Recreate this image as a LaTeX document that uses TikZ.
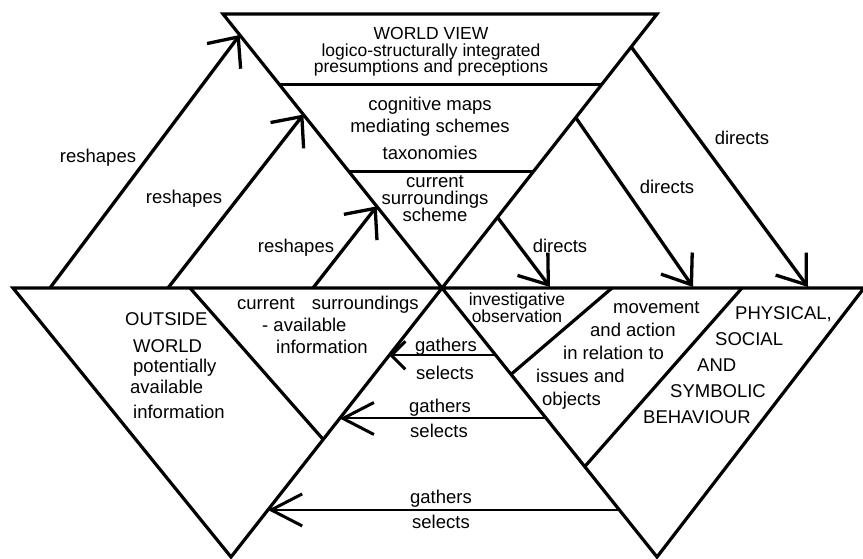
\documentclass[tikz,border=0pt]{standalone}
\usepackage{fontspec}
\setmainfont{Liberation Sans}
\usetikzlibrary{arrows.meta,calc}
\lineskiplimit=-\maxdimen
\newcommand{\fs}[1]{\fontsize{18.5}{#1}\selectfont\lineskiplimit=-\maxdimen}
\newcommand{\fss}[1]{\fontsize{17.5}{#1}\selectfont\lineskiplimit=-\maxdimen}
\begin{document}
\begin{tikzpicture}[x=1pt,y=-1pt,
  edge/.style={line width=3.2pt, line join=miter},
  lbl/.style={inner sep=0pt, anchor=base, font=\fs{22}},
  rarrow/.style={line width=3.3pt, -{Straight Barb[length=24pt,width=42pt]}},
  darrow/.style={line width=3.3pt, -{Straight Barb[length=26pt,width=38pt]}},
  garrow/.style={line width=2pt, -{Straight Barb[length=31pt,width=32pt,line width=3pt]}},
  gsmall/.style={line width=2pt, -{Straight Barb[length=14pt,width=28pt,line width=3pt]}}]
\useasboundingbox (0,0) rectangle (863,559);
% main frame
\coordinate (TL) at (223,14);
\coordinate (TR) at (657,14);
\coordinate (BL) at (13,288);
\coordinate (BR) at (864,288);
\coordinate (AL) at (231,557);
\coordinate (AR) at (657,557);
\coordinate (C) at (intersection of TL--AR and TR--AL);
\draw[edge] (BL) -- (BR) -- (AR) -- (TL) -- (TR) -- (AL) -- cycle;
% inner lines of the top triangle
\coordinate (h1l) at ($(TL)!0.258!(C)$);
\coordinate (h1r) at ($(TR)!0.258!(C)$);
\coordinate (h2l) at ($(TL)!0.5745!(C)$);
\coordinate (h2r) at ($(TR)!0.5745!(C)$);
\draw[edge] (h1l) -- (h1r);
\draw[edge] (h2l) -- (h2r);
% inner lines of the bottom triangles
\coordinate (li1) at (190,288);
\coordinate (li2) at ($(C)!0.563!(AL)$);
\draw[edge] (li1) -- (li2);
\coordinate (ra1) at (612,288);
\coordinate (ra2) at ($(C)!0.321!(AR)$);
\draw[edge] (ra1) -- (ra2);
\coordinate (rb1) at (742,288);
\coordinate (rb2) at ($(C)!0.664!(AR)$);
\draw[edge] (rb1) -- (rb2);
% reshapes arrows
\coordinate (r1s) at (50,288);
\coordinate (r1e) at ($(TL)!0.0764!(C)$);
\coordinate (r2s) at (168,288);
\coordinate (r2e) at ($(TL)!0.367!(C)$);
\coordinate (r3s) at (313,288);
\coordinate (r3e) at ($(TL)!0.702!(C)$);
\draw[rarrow] (r1s) -- (r1e);
\draw[rarrow] (r2s) -- (r2e);
\draw[rarrow] (r3s) -- (r3e);
% directs arrows
\coordinate (d1s) at ($(TR)!0.12!(C)$);
\coordinate (d1e) at (808,287);
\coordinate (d2s) at ($(TR)!0.378!(C)$);
\coordinate (d2e) at (693,287);
\coordinate (d3s) at ($(TR)!0.742!(C)$);
\coordinate (d3e) at (550,287);
\draw[darrow] (d1s) -- (d1e);
\draw[darrow] (d2s) -- (d2e);
\draw[darrow] (d3s) -- (d3e);
% gathers arrows
\coordinate (g1s) at ($(C)!0.25!(AR)$);
\coordinate (g1e) at ($(C)!0.25!(AL)$);
\coordinate (g2s) at ($(C)!0.485!(AR)$);
\coordinate (g2e) at ($(C)!0.485!(AL)$);
\coordinate (g3s) at ($(C)!0.825!(AR)$);
\coordinate (g3e) at ($(C)!0.825!(AL)$);
\draw[gsmall] (g1s) -- (g1e);
\draw[garrow] (g2s) -- (g2e);
\draw[garrow] (g3s) -- (g3e);
% texts (multi-line nodes are anchored at the baseline of their last line)
\node[lbl, align=center, font=\fss{16.5}] (worldview) at (431,73)
  {WORLD VIEW\\logico-structurally integrated\\presumptions and preceptions};
\node[lbl, align=center, font=\fs{22}] (cogmaps) at (430,160)
  {cognitive maps\\mediating schemes\\[5pt]taxonomies};
\node[lbl, align=center, font=\fs{17}] (csscheme) at (435,222)
  {current\\surroundings\\scheme};
\node[lbl, anchor=base west, align=left, font=\fs{21}] (outside) at (125,418)
  {OUTSIDE\\[6pt]\hspace*{8pt}WORLD\\[-1pt]\hspace*{8pt}potentially\\\hspace*{5pt}available\\[4pt]\hspace*{8pt}information};
\node[lbl, anchor=base west, align=left, font=\fs{22}] (cursur) at (237,353)
  {current\hspace{17pt}surroundings\\\hspace*{25pt}- available\\\hspace*{39pt}information};
\node[lbl, align=center, font=\fss{16.8}] (invobs) at (517,322)
  {investigative\\observation};
\node[lbl, anchor=base west, align=left, font=\fs{23}] (movement) at (536,405)
  {\hspace*{77pt}movement\\\hspace*{54pt}and action\\\hspace*{27pt}in relation to\\issues and\\\hspace*{6pt}objects};
\node[lbl, anchor=base west, align=left, font=\fs{25.8}] (physical) at (643,423)
  {\hspace*{92pt}PHYSICAL,\\\hspace*{72pt}SOCIAL\\\hspace*{54pt}AND\\\hspace*{27pt}SYMBOLIC\\BEHAVIOUR};
\node[lbl] (rs1) at (98,163) {reshapes};
\node[lbl] (rs2) at (184,204) {reshapes};
\node[lbl] (rs3) at (296,253) {reshapes};
\node[lbl] (dr1) at (742,145) {directs};
\node[lbl] (dr2) at (667,194) {directs};
\node[lbl] (dr3) at (560,252) {directs};
\node[lbl] (ga1) at (446,351) {gathers};
\node[lbl] (se1) at (445,379) {selects};
\node[lbl] (ga2) at (440,412) {gathers};
\node[lbl] (se2) at (439,437) {selects};
\node[lbl] (ga3) at (441,503) {gathers};
\node[lbl] (se3) at (441,528) {selects};
\end{tikzpicture}
\end{document}
